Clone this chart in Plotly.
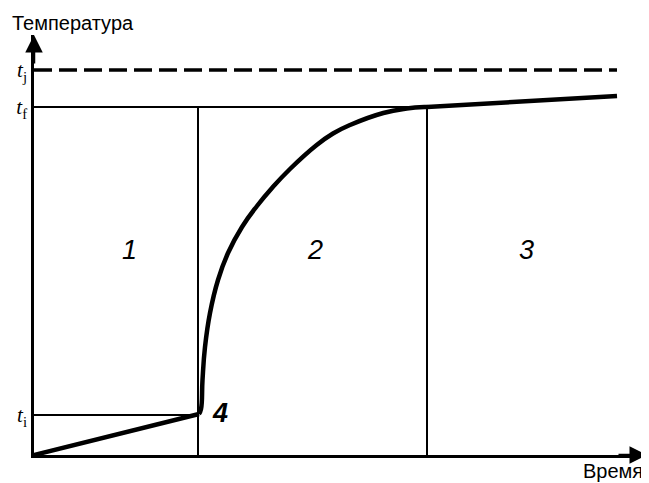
import plotly.graph_objects as go

# schematic heating curve, arbitrary units
t_i = 4.0
t_f = 34.8
t_j = 38.5
x_b1 = 16.4   # end of zone 1
x_b2 = 39.3   # end of zone 2

lin_x = [0.0, 16.5]
lin_y = [0.0, 4.1]
rise_x = [16.5, 16.7, 16.85, 17.1, 17.6, 18.4, 19.4, 20.8, 22.3, 23.8,
          25.6, 28.27, 29.9, 31.6, 34.93, 37.27, 39.1, 39.3]
rise_y = [4.1, 4.6, 7.5, 10.8, 14.2, 17.5, 20.2, 22.8, 24.9, 26.7,
          28.6, 31.0, 32.15, 33.0, 34.2, 34.65, 34.8, 34.8]
tail_x = [39.3, 58.3]
tail_y = [34.8, 35.9]

x_max = 61.3
y_max = 42.0

zone_labels = ["1", "2", "3"]
zone_x = [9.5, 28.1, 49.2]
zone_y = 20.5

BLACK = "black"
fig = go.Figure()

def seg(xs, ys, width, dash="solid"):
    fig.add_trace(go.Scatter(x=xs, y=ys, mode="lines", showlegend=False,
                             hoverinfo="skip", cliponaxis=False,
                             line=dict(color=BLACK, width=width, dash=dash)))

# guide lines
seg([0, x_b2], [t_f, t_f], 2)
seg([0, x_b1], [t_i, t_i], 2)
seg([x_b1, x_b1], [0, t_f], 2)
seg([x_b2, x_b2], [0, t_f], 2)
seg([0, tail_x[-1]], [t_j, t_j], 3.5, dash="18px,7px")

# the curve
seg(lin_x, lin_y, 4.5)
fig.add_trace(go.Scatter(x=rise_x, y=rise_y, mode="lines", showlegend=False,
                         hoverinfo="skip", line_shape="spline",
                         line=dict(color=BLACK, width=4.5, smoothing=1.3)))
seg(tail_x, tail_y, 4.5)

# axis arrow heads
fig.add_annotation(x=0, y=y_max, ax=0, ay=y_max - 3, xref="x", yref="y",
                   axref="x", ayref="y", text="", showarrow=True,
                   arrowhead=2, arrowsize=1.4, arrowwidth=2.5, arrowcolor=BLACK)
fig.add_annotation(x=x_max, y=0, ax=x_max - 3, ay=0, xref="x", yref="y",
                   axref="x", ayref="y", text="", showarrow=True,
                   arrowhead=2, arrowsize=1.4, arrowwidth=2.5, arrowcolor=BLACK)

for lab, zx in zip(zone_labels, zone_x):
    fig.add_annotation(x=zx, y=zone_y, text=f"<i>{lab}</i>", showarrow=False,
                       font=dict(family="Liberation Sans", size=27, color=BLACK))
fig.add_annotation(x=18.55, y=4.2, text="<i><b>4</b></i>", showarrow=False,
                   font=dict(family="Liberation Sans", size=27, color=BLACK))

fig.add_annotation(xref="paper", yref="paper", x=-0.039, y=1.029,
                   text="Температура", showarrow=False,
                   xanchor="left", yanchor="middle",
                   font=dict(family="Liberation Sans", size=20, color=BLACK))
fig.add_annotation(xref="paper", yref="paper", x=0.997, y=-0.038,
                   text="Время", showarrow=False,
                   xanchor="right", yanchor="middle",
                   font=dict(family="Liberation Sans", size=20, color=BLACK))

# page body adds an 8px offset, so the figure is 8px smaller on each axis
fig.update_layout(
    width=641, height=475,
    margin=dict(l=26, r=2, t=27, b=28),
    plot_bgcolor="white", paper_bgcolor="white",
    xaxis=dict(range=[0, x_max], showgrid=False, zeroline=False,
               showline=True, linecolor=BLACK, linewidth=2.5,
               showticklabels=False, ticks="", automargin=False),
    yaxis=dict(range=[0, y_max], showgrid=False, zeroline=False,
               showline=True, linecolor=BLACK, linewidth=2.5, ticks="",
               automargin=False,
               tickvals=[t_i, t_f, t_j],
               ticktext=["<i>t</i><sub>i</sub>", "<i>t</i><sub>f</sub>",
                         "<i>t</i><sub>j</sub>"],
               tickfont=dict(family="Liberation Serif", size=21, color=BLACK)),
)

fig.write_html("out.html")
